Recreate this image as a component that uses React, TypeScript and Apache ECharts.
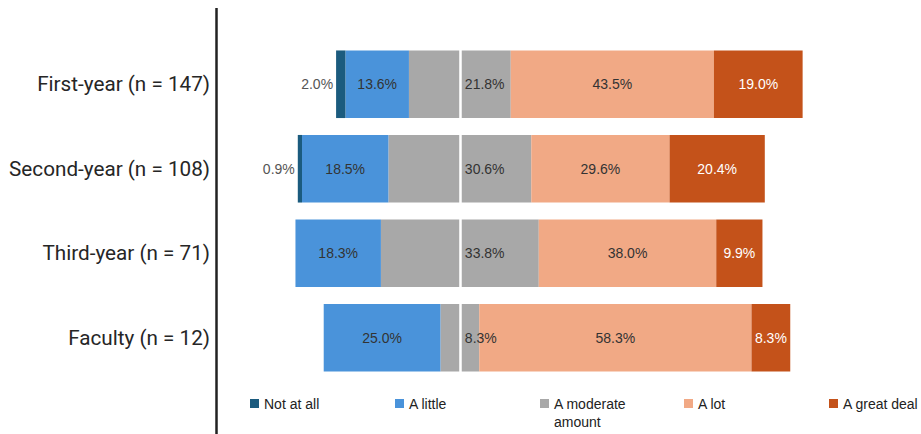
import React, { useEffect, useRef } from "react";
import * as echarts from "echarts";

const categories = [
  "First-year (n = 147)",
  "Second-year (n = 108)",
  "Third-year (n = 71)",
  "Faculty (n = 12)",
];
const notAtAll = [2.0, 0.9, 0, 0];
const aLittle = [13.6, 18.5, 18.3, 25.0];
const moderate = [21.8, 30.6, 33.8, 8.3];
const aLot = [43.5, 29.6, 38.0, 58.3];
const greatDeal = [19.0, 20.4, 9.9, 8.3];
const legendNames = ["Not at all", "A little", "A moderate amount", "A lot", "A great deal"];

const COLORS = {
  notAtAll: "#1b5b7e",
  aLittle: "#4a93da",
  moderate: "#a8a8a8",
  aLot: "#f1a985",
  greatDeal: "#c4521a",
};

const LABEL_FONT = "'Liberation Sans', Arial, sans-serif";
const pct = (v: number) => v.toFixed(1) + "%";

export default function App() {
  const ref = useRef<HTMLDivElement>(null);
  useEffect(() => {
    if (!ref.current) return;
    const chart = echarts.init(ref.current, undefined, { renderer: "svg" });
    const baseLabel = {
      show: true,
      fontFamily: LABEL_FONT,
      fontSize: 14,
      color: "#333",
    };
    const legendLefts = [250, 395, 540, 684, 829];
    const legends = legendNames.map((name, i) => {
      const isMod = name === "A moderate amount";
      return {
        data: [name],
        left: legendLefts[i],
        top: isMod ? 376.5 : 394.5,
        padding: 0,
        icon: "rect",
        itemWidth: 9,
        itemHeight: 9,
        selectedMode: false,
        formatter: isMod ? () => " \nA moderate\namount" : undefined,
        textStyle: {
          fontFamily: LABEL_FONT,
          fontSize: 14,
          color: "#222",
          lineHeight: 18,
        },
      };
    });
    chart.setOption({
      animation: false,
      grid: { left: 217, right: 17.5, top: 42, bottom: 54, containLabel: false },
      xAxis: { type: "value", min: -52, max: 95, show: false },
      yAxis: {
        type: "category",
        data: categories,
        inverse: true,
        axisLine: { show: false },
        axisTick: { show: false },
        axisLabel: {
          margin: 7,
          fontFamily: "Roboto, sans-serif",
          fontSize: 20.7,
          color: "#262626",
        },
      },
      legend: legends,
      graphic: [
        {
          type: "line",
          shape: { x1: 216.5, y1: 8, x2: 216.5, y2: 434 },
          style: { stroke: "#222", lineWidth: 2.5 },
          z: 100,
        },
      ],
      series: [
        {
          name: "A moderate amount",
          type: "bar",
          stack: "total",
          barWidth: "80%",
          itemStyle: { color: COLORS.moderate },
          data: moderate.map((v) => -v / 2),
          label: { show: false },
          markLine: {
            silent: true,
            symbol: "none",
            label: { show: false },
            lineStyle: { color: "#ffffff", width: 2.5, type: "solid" },
            z: 10,
            data: [{ xAxis: 0 }],
          },
        },
        {
          name: "A little",
          type: "bar",
          stack: "total",
          itemStyle: { color: COLORS.aLittle },
          data: aLittle.map((v) => -v),
          label: {
            ...baseLabel,
            position: "inside",
            formatter: (p: any) => pct(aLittle[p.dataIndex]),
          },
        },
        {
          name: "Not at all",
          type: "bar",
          stack: "total",
          itemStyle: { color: COLORS.notAtAll },
          data: notAtAll.map((v) => -v),
          label: {
            ...baseLabel,
            color: "#555",
            position: "left",
            distance: 3,
            formatter: (p: any) => (notAtAll[p.dataIndex] > 0 ? pct(notAtAll[p.dataIndex]) : ""),
          },
        },
        {
          name: "A moderate amount",
          type: "bar",
          stack: "total",
          itemStyle: { color: COLORS.moderate },
          data: moderate.map((v) => v / 2),
          label: {
            ...baseLabel,
            position: "insideLeft",
            distance: 5,
            formatter: (p: any) => pct(moderate[p.dataIndex]),
          },
        },
        {
          name: "A lot",
          type: "bar",
          stack: "total",
          itemStyle: { color: COLORS.aLot },
          data: aLot,
          label: {
            ...baseLabel,
            position: "inside",
            formatter: (p: any) => pct(aLot[p.dataIndex]),
          },
        },
        {
          name: "A great deal",
          type: "bar",
          stack: "total",
          itemStyle: { color: COLORS.greatDeal },
          data: greatDeal,
          label: {
            ...baseLabel,
            color: "#ffffff",
            position: "inside",
            formatter: (p: any) => pct(greatDeal[p.dataIndex]),
          },
        },
      ],
    });
    return () => chart.dispose();
  }, []);
  return (
    <div
      ref={ref}
      style={{ position: "fixed", left: 0, top: 0, width: 921, height: 434, background: "#fff" }}
    />
  );
}
